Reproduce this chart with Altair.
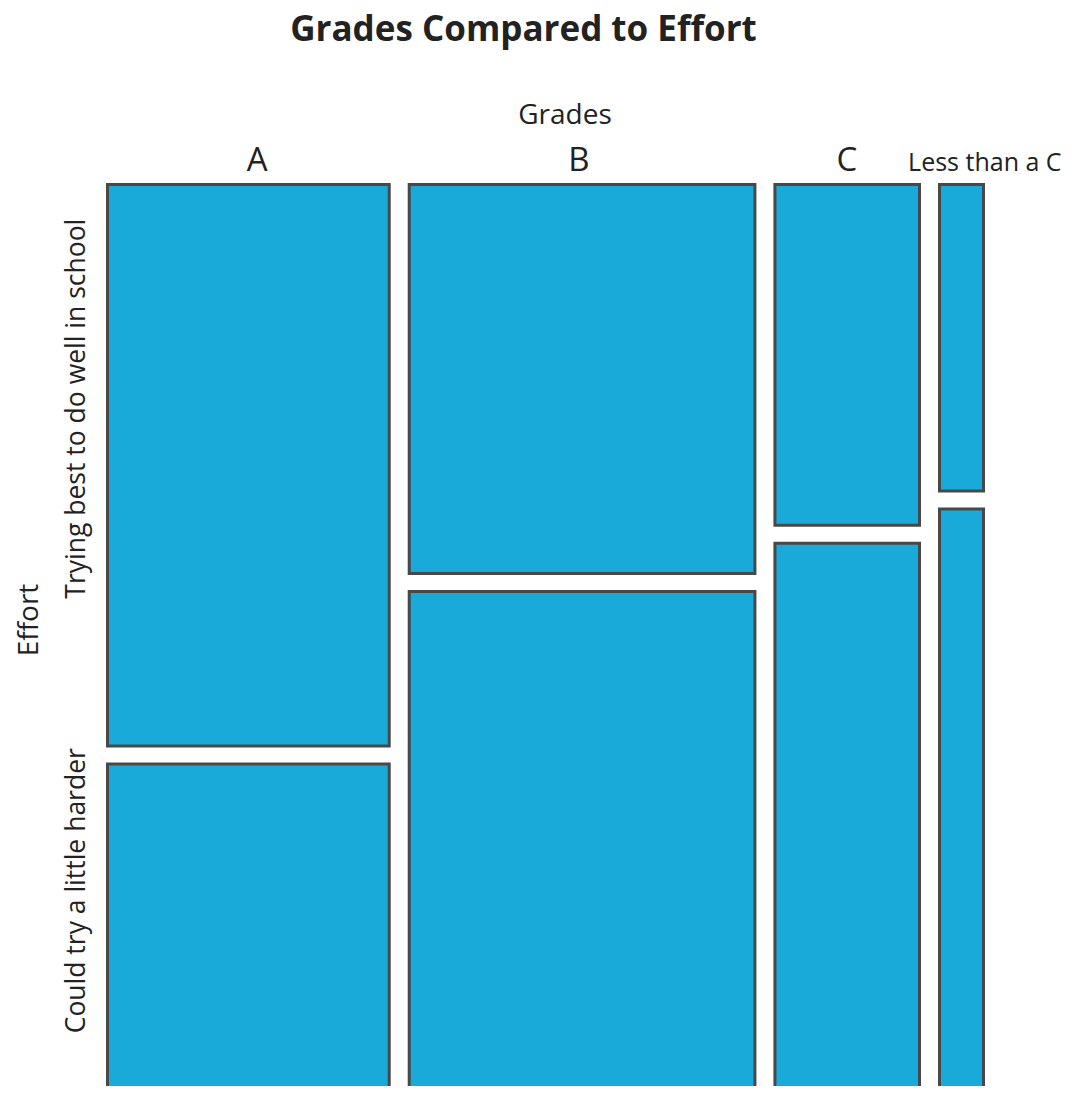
import altair as alt
import pandas as pd

# ---- data ----
grades = ["A", "B", "C", "Less than a C"]
students = [33, 40, 18, 7]                     # column widths (students per grade)
trying_best_pct = [62.5, 43.9, 38.7, 35.0]     # % of each grade "Trying best"
effort_levels = ["Trying best to do well in school", "Could try a little harder"]

# tick-label positions (axis values, in data units)
grade_label_at = [17.4, 52.6, 81.9, 97.0]
effort_label_at = [25.1, 77.1]

rows = []
cum = 0
for g, n, p in zip(grades, students, trying_best_pct):
    rows.append(dict(grade=g, effort=effort_levels[0], x0=cum, x1=cum + n, y0=0, y1=p))
    rows.append(dict(grade=g, effort=effort_levels[1], x0=cum, x1=cum + n, y0=p, y1=100))
    cum += n
df = pd.DataFrame(rows)
total = sum(students)

grade_expr = f"{grades}[indexof({grade_label_at}, datum.value)]"
effort_expr = f"{effort_levels}[indexof({effort_label_at}, datum.value)]"

FONT = "Open Sans"
TXT = "#222222"

chart = (
    alt.Chart(df)
    .mark_rect(
        fill="#19AAD9",
        stroke="#484848",
        strokeWidth=3,
        xOffset=10,
        x2Offset=-10,
        yOffset=9,
        y2Offset=-9,
    )
    .encode(
        x=alt.X(
            "x0:Q",
            scale=alt.Scale(domain=[0, total], nice=False, zero=False),
            axis=alt.Axis(
                orient="top",
                title="Grades",
                values=grade_label_at,
                labelExpr=grade_expr,
                ticks=False,
                tickSize=0,
                domain=False,
                grid=False,
                labelFont=FONT,
                labelColor=TXT,
                labelFontSize={"condition": {"test": f"datum.value >= {grade_label_at[3]}", "value": 25}, "value": 33},
                labelPadding=5,
                labelBaseline="alphabetic",
                labelFlush=False,
                labelOverlap=False,
                labelBound=False,
                labelLimit=0,
                titleFont=FONT,
                titleFontSize=28,
                titleFontWeight="normal",
                titleColor=TXT,
                titleX=467,
                titleY=-52,
                titleBaseline="alphabetic",
                titleAlign="center",
            ),
        ),
        x2="x1:Q",
        y=alt.Y(
            "y0:Q",
            scale=alt.Scale(domain=[0, 100], range=[0, 927], nice=False, zero=False),
            axis=alt.Axis(
                orient="left",
                title="Effort",
                values=effort_label_at,
                labelExpr=effort_expr,
                ticks=False,
                tickSize=0,
                domain=False,
                grid=False,
                labelAngle=270,
                labelAlign="center",
                labelBaseline="alphabetic",
                labelFont=FONT,
                labelColor=TXT,
                labelFontSize=26.5,
                labelPadding=13.5,
                labelOverlap=False,
                labelBound=False,
                labelFlush=False,
                labelLimit=0,
                titleFont=FONT,
                titleFontSize=28,
                titleFontWeight="normal",
                titleColor=TXT,
                titleAngle=270,
                titleBaseline="alphabetic",
                titleAlign="center",
                titleX=-60,
                titleY=444,
            ),
        ),
        y2="y1:Q",
        tooltip=["grade:N", "effort:N"],
    )
    .properties(
        width=896,
        height=910,
        title=alt.TitleParams(
            "Grades Compared to Effort",
            font=FONT,
            fontSize=35,
            fontWeight="bold",
            color=TXT,
            anchor="middle",
            dx=-22,
            dy=-50,
        ),
        autosize=alt.AutoSizeParams(type="none"),
        padding={"left": 89.5, "top": 167.5, "right": 72, "bottom": 0},
    )
    .configure_view(stroke=None)
)

chart.save("out.html", embed_options={"renderer": "svg", "actions": False})
